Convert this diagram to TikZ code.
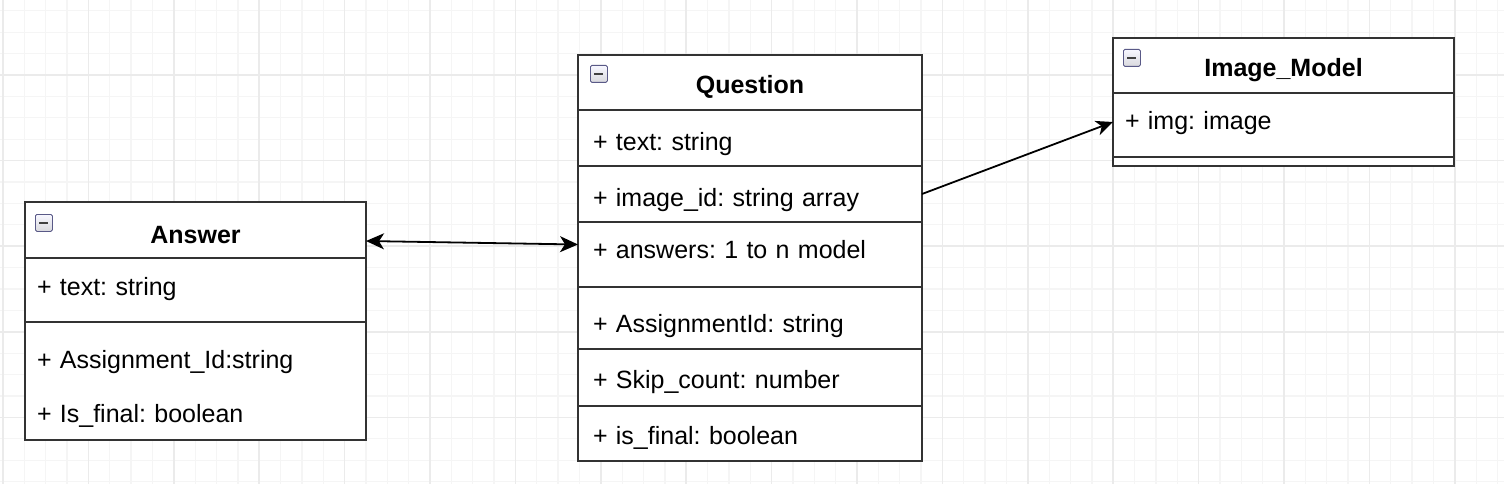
\documentclass[tikz,border=0pt]{standalone}
\usepackage{fontspec}
\setmainfont{Liberation Sans}
\frenchspacing
\usetikzlibrary{positioning,arrows.meta}

\tikzset{
  gridminor/.style={black!4, line width=1.3pt},
  gridmajor/.style={black!8, line width=1.6pt},
  umlhead/.style={draw=black!80, line width=1.8pt, fill=white, outer sep=0pt,
    inner xsep=12pt, inner ysep=0pt, text width=#1, align=center, anchor=north west,
    text height=40pt, font=\fontsize{25}{30}\selectfont\bfseries},
  umlhead/.default=317pt,
  umlrow/.style={draw=black!80, line width=1.8pt, fill=white, outer sep=0pt,
    inner xsep=12pt, inner ysep=0pt, text width=#1, align=left,
    text height=40pt, font=\fontsize{25}{30}\selectfont},
  umlrow/.default=317pt,
  umlicon/.style={draw=black!40!blue!30!gray, line width=0.8pt, rounded corners=1.5pt,
    minimum size=17pt, inner sep=0pt, anchor=north west,
    top color=blue!3!white, bottom color=blue!12!black!15,
    path picture={\draw[black!75, line width=2pt]
      ([xshift=4pt]path picture bounding box.west) --
      ([xshift=-4pt]path picture bounding box.east);}},
  assoc/.style={line width=1.8pt, black,
    {Stealth[length=18pt,width=16pt,inset=5pt]}-{Stealth[length=18pt,width=16pt,inset=5pt]}},
  assocto/.style={line width=1.8pt, black, -{Stealth[length=17pt,width=15pt,inset=5pt]}}
}

\begin{document}
\begin{tikzpicture}[x=1pt,y=-1pt]
    \useasboundingbox (0,0) rectangle (1504,484);
    \fill[white] (0,0) rectangle (1504,484);

    % background grid
    \foreach \i in {0,...,70}
        \draw[gridminor] ({3+21.35*\i},0) -- ({3+21.35*\i},484);
    \foreach \j in {-3,...,19}
        \draw[gridminor] (0,{75+21.4*\j}) -- (1504,{75+21.4*\j});
    \foreach \i in {0,...,17}
        \draw[gridmajor] ({3+85.4*\i},0) -- ({3+85.4*\i},484);
    \foreach \j in {0,...,4}
        \draw[gridmajor] (0,{75+85.6*\j}) -- (1504,{75+85.6*\j});

    % Answer
    \node[umlhead, text height=41pt, text depth=15pt] (a-head) at (25,202) {Answer};
    \node[umlrow, text height=37pt, text depth=27pt, below=0pt of a-head] (a-text) {+ text: string};
    \node[umlrow, text height=46pt, text depth=72pt, below=0pt of a-text] (a-rest)
        {+ Assignment\_Id:string\\[24pt] + Is\_final: boolean};
    \node[umlicon] (a-icon) at (35,214) {};

    % Question
    \node[umlhead=314pt, inner xsep=15pt, text height=39pt, text depth=16pt] (q-head) at (578,55) {Question};
    \node[umlrow=314pt, inner xsep=15pt, text depth=16pt, below=0pt of q-head] (q-text) {+ text: string};
    \node[umlrow=314pt, inner xsep=15pt, text depth=16pt, below=0pt of q-text] (q-imgid) {+ image\_id: string array};
    \node[umlrow=314pt, inner xsep=15pt, text height=36pt, text depth=29pt, below=0pt of q-imgid] (q-answers) {+ answers: 1 to n model};
    \node[umlrow=314pt, inner xsep=15pt, text height=45pt, text depth=17pt, below=0pt of q-answers] (q-assign) {+ AssignmentId: string};
    \node[umlrow=314pt, inner xsep=15pt, text height=39pt, text depth=18pt, below=0pt of q-assign] (q-skip) {+ Skip\_count: number};
    \node[umlrow=314pt, inner xsep=15pt, text height=38pt, text depth=17pt, below=0pt of q-skip] (q-final) {+ is\_final: boolean};
    \node[umlicon] (q-icon) at (590,65) {};

    % Image_Model
    \node[umlhead, text height=39pt, text depth=16pt] (m-head) at (1113,38) {Image\_Model};
    \node[umlrow, text height=37pt, text depth=27pt, below=0pt of m-head] (m-img) {+ img: image};
    \node[umlrow, text height=9pt, text depth=0pt, below=0pt of m-img] (m-div) {};
    \node[umlicon] (m-icon) at (1123,49) {};

    % associations
    \draw[assoc] ([yshift=-11pt]a-head.east) -- ([yshift=10pt]q-answers.west);
    \draw[assocto] (q-imgid.east) -- ([yshift=3pt]m-img.west);
\end{tikzpicture}
\end{document}
